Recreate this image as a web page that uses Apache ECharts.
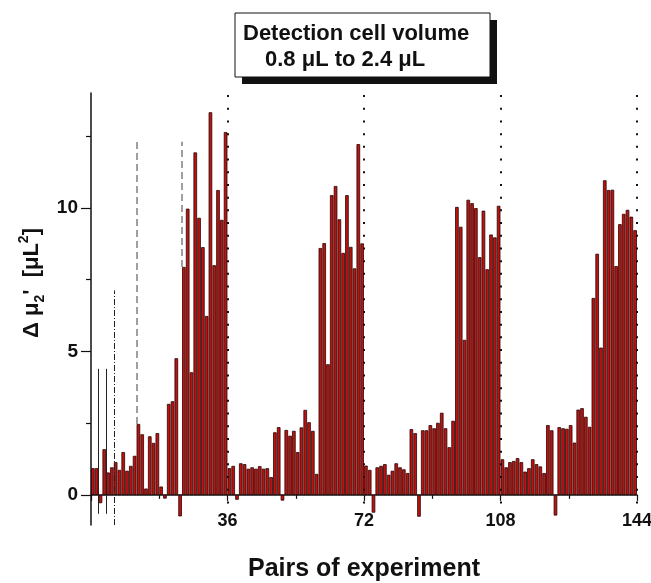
<!DOCTYPE html>
<html>
<head>
<meta charset="utf-8">
<script src="https://cdn.jsdelivr.net/npm/echarts/dist/echarts.min.js"></script>
<style>
  html, body { margin: 0; padding: 0; background: #fff; }
  #chart { width: 651px; height: 583px; }
</style>
</head>
<body>
<div id="chart"></div>
<script>
// bar heights, pairs 1..144
const delta = [
  0.93, 0.93, -0.29, 1.59, 0.78, 0.96, 1.14, 0.87, 1.49, 0.84, 1.01, 1.36,
  2.47, 2.11, 0.22, 2.04, 1.81, 2.15, 0.29, -0.13, 3.17, 3.26, 4.76, -0.75,
  7.94, 9.97, 4.27, 11.93, 9.65, 8.63, 6.23, 13.33, 8.0, 10.62, 9.58, 12.64,
  0.93, 1.01, -0.17, 1.1, 1.07, 0.91, 0.96, 0.91, 1.0, 0.91, 0.93, 0.62,
  2.18, 2.36, -0.2, 2.26, 2.06, 2.23, 1.49, 2.35, 2.96, 2.53, 2.23, 0.73,
  8.6, 8.77, 4.55, 10.44, 10.76, 9.6, 8.43, 10.44, 8.64, 7.89, 12.22, 8.76,
  1.02, 0.87, -0.62, 0.96, 1.01, 1.07, 0.7, 0.84, 1.1, 0.96, 0.89, 0.76,
  2.29, 2.15, -0.76, 2.25, 2.25, 2.43, 2.32, 2.51, 2.86, 2.32, 1.66, 2.58,
  10.03, 9.34, 5.4, 10.28, 10.16, 9.99, 8.28, 9.9, 7.86, 9.07, 8.97, 10.07,
  1.24, 0.96, 1.14, 1.18, 1.28, 1.14, 0.81, 0.93, 1.24, 1.07, 0.99, 0.76,
  2.43, 2.25, -0.72, 2.36, 2.32, 2.3, 2.43, 1.82, 2.97, 3.02, 2.72, 2.37,
  6.86, 8.4, 5.13, 10.96, 10.62, 10.63, 7.97, 9.43, 9.79, 9.93, 9.69, 9.22
]
const yLabels = [0, 5, 10]
const yMinor = [2.5, 7.5, 12.5]
const dottedAt = [36, 72, 108, 144]
const dashedAt = [12, 24]
const thinAt = [2, 4]
const dashDotAt = [6.2]

const FONT = '"Liberation Sans", Arial, sans-serif'

const barData = delta.map((v, i) => [i + 0.5, v])

// reference lines
const refLines = []
dottedAt.forEach(x => {
  refLines.push([
    { coord: [x, -0.3], lineStyle: { type: [2, 10.7], width: 2, color: '#111' } },
    { coord: [x, 14] }
  ])
})
dashedAt.forEach(x => {
  refLines.push([
    { coord: [x, delta[x]], lineStyle: { type: [7, 4], width: 1.5, color: '#808080' } },
    { coord: [x, 12.3] }
  ])
})
thinAt.forEach(x => {
  refLines.push([
    { coord: [x, -0.66], lineStyle: { type: 'solid', width: 1, color: '#222' } },
    { coord: [x, 4.39] }
  ])
})
dashDotAt.forEach(x => {
  refLines.push([
    { coord: [x, -1.05], lineStyle: { type: [6, 2, 1, 2], width: 1, color: '#222' } },
    { coord: [x, 7.12] }
  ])
})

const chart = echarts.init(document.getElementById('chart'))
chart.setOption({
  animation: false,
  backgroundColor: '#fff',
  title: {
    left: 235,
    top: 13,
    text: '{a|Detection cell volume}\n{b|0.8 μL to 2.4 μL}',
    padding: [8, 20, 4, 8],
    textStyle: {
      rich: {
        a: { fontFamily: FONT, fontWeight: 'bold', fontSize: 22, lineHeight: 26, color: '#111' },
        b: { fontFamily: FONT, fontWeight: 'bold', fontSize: 22, lineHeight: 26, color: '#111', padding: [0, 0, 0, 22] }
      }
    }
  },
  grid: { left: 91, right: 14, top: 93, bottom: 58, outerBoundsMode: 'none' },
  xAxis: {
    type: 'value',
    min: 0,
    max: 144,
    interval: 36,
    name: 'Pairs of experiment',
    nameLocation: 'middle',
    nameGap: 32,
    nameTextStyle: { fontFamily: FONT, fontWeight: 'bold', fontSize: 25, color: '#111' },
    axisLine: { onZero: true, lineStyle: { color: '#111', width: 1.5 } },
    axisTick: { show: true, length: 6, lineStyle: { color: '#111', width: 1.2 } },
    minorTick: { show: true, splitNumber: 2, length: 4, lineStyle: { color: '#111', width: 1.2 } },
    axisLabel: { showMinLabel: false, margin: -13, fontFamily: FONT, fontWeight: 'bold', fontSize: 18, color: '#111' },
    splitLine: { show: false }
  },
  yAxis: [
    {
      type: 'value',
      min: -1.05,
      max: 14,
      axisLine: { show: true, lineStyle: { color: '#111', width: 1.5 } },
      axisTick: { show: true, length: 10, customValues: yLabels, lineStyle: { color: '#111', width: 1.2 } },
      axisLabel: { customValues: yLabels, margin: 13, fontFamily: FONT, fontWeight: 'bold', fontSize: 19, color: '#111' },
      splitLine: { show: false }
    },
    {
      type: 'value',
      position: 'left',
      min: -1.05,
      max: 14,
      axisLine: { show: false },
      axisTick: { show: true, length: 5, customValues: yMinor, lineStyle: { color: '#111', width: 1.2 } },
      axisLabel: { show: false },
      splitLine: { show: false }
    }
  ],
  graphic: [
    // box with a solid drop shadow behind the title text
    { type: 'rect', shape: { x: 242, y: 20, width: 255, height: 64 }, style: { fill: '#111' }, z: 0 },
    { type: 'rect', shape: { x: 235, y: 13, width: 255, height: 64 }, style: { fill: '#fff', stroke: '#111', lineWidth: 1 }, z: 1 },
    {
      type: 'text',
      x: 32,
      y: 283,
      rotation: Math.PI / 2,
      style: {
        text: '{a|Δ μ}{s|2}{a|\'  [μL}{p|2}{a|]}',
        align: 'center',
        verticalAlign: 'middle',
        rich: {
          a: { fontFamily: FONT, fontWeight: 'bold', fontSize: 22, lineHeight: 30, fill: '#111' },
          s: { fontFamily: FONT, fontWeight: 'bold', fontSize: 14, lineHeight: 14, verticalAlign: 'bottom', fill: '#111' },
          p: { fontFamily: FONT, fontWeight: 'bold', fontSize: 14, lineHeight: 14, verticalAlign: 'top', fill: '#111' }
        }
      }
    }
  ],
  series: [
    {
      type: 'bar',
      data: barData,
      barWidth: 3.6,
      itemStyle: { color: '#bb130f', borderColor: '#2a0505', borderWidth: 0.8 },
      emphasis: { disabled: true },
      markLine: {
        silent: true,
        symbol: ['none', 'none'],
        label: { show: false },
        animation: false,
        data: refLines
      }
    }
  ]
})
</script>
</body>
</html>
